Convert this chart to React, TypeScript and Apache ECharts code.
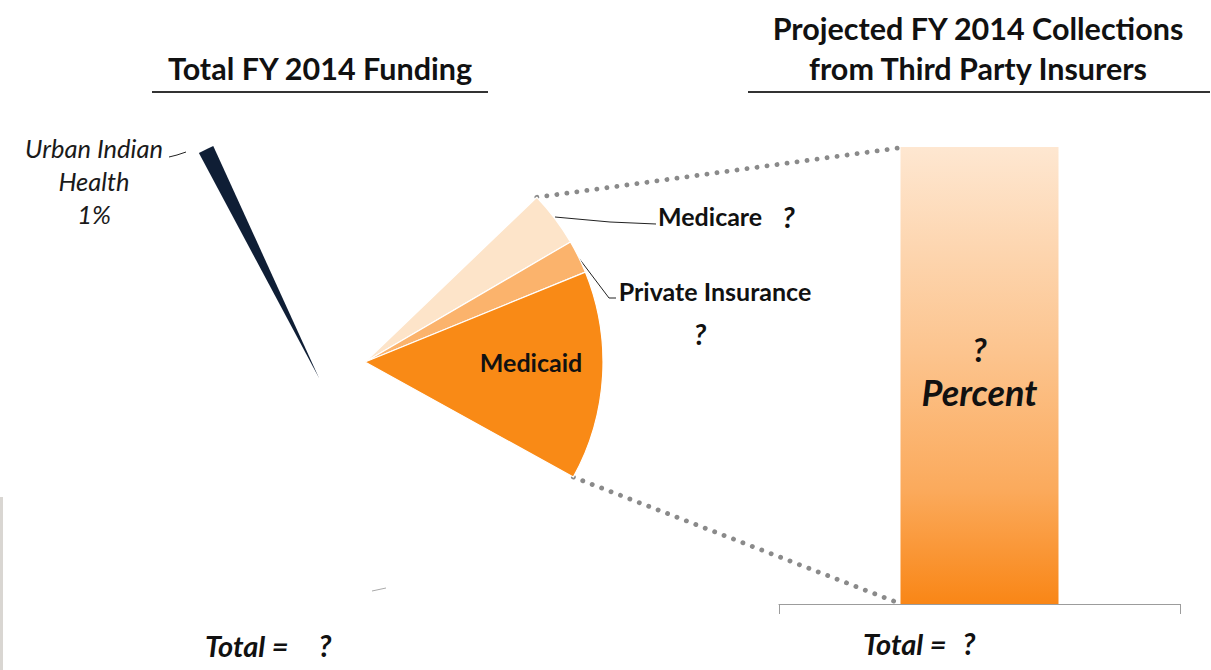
import React, { useEffect, useRef } from "react";
import * as echarts from "echarts";

// ---- data ----
const fundingNames = ["Urban Indian Health", "Other IHS Funding"];
const fundingValues = [1, 99];
const thirdPartyNames = ["Medicare", "Private Insurance", "Medicaid", "Remaining Funding"];
const thirdPartyValues = [3.75, 2.25, 14.2, 79.8];
const collectionCategories = ["Third Party Collections"];
const collectionValues = [100];
const unknownMark = "?";

// ---- layout constants ----
const W = 1211;
const H = 670;
const FONT = "Lato, 'Open Sans', sans-serif";
const MAIN_C = [319, 378];
const MAIN_R = 255;
const TP_C = [365, 362];
const TP_R = 238;
const TP_START = 43.8;
const GRID = { left: 779, right: 31, top: 147, bottom: 66 };
const BAR_W_FRAC = 0.394;

const navy = "#0f1e35";
const orangeColors = ["#fde4c9", "#fbb36c", "#f98a16"];

function pt(c: number[], r: number, deg: number) {
  const a = (deg * Math.PI) / 180;
  return [c[0] + r * Math.cos(a), c[1] - r * Math.sin(a)];
}

export default function App() {
  const ref = useRef<HTMLDivElement>(null);
  useEffect(() => {
    if (!ref.current) return;
    const chart = echarts.init(ref.current, undefined, { renderer: "svg" });

    const tpTotal = thirdPartyValues.reduce((a, b) => a + b, 0);
    const shownSpan = ((thirdPartyValues[0] + thirdPartyValues[1] + thirdPartyValues[2]) / tpTotal) * 360;
    const topPt = pt(TP_C, TP_R, TP_START);
    const botPt = pt(TP_C, TP_R, TP_START - shownSpan);

    const catW = W - GRID.left - GRID.right;
    const barLeft = GRID.left + (catW - catW * BAR_W_FRAC) / 2;
    const barTop = GRID.top;
    const barBottom = H - GRID.bottom;

    const hidden = {
      itemStyle: { color: "rgba(255,255,255,0)", borderWidth: 0 },
      label: { show: false },
      labelLine: { show: false },
      emphasis: { disabled: true },
    };

    const boldItalic = (size: number, extra: any = {}) => ({
      fontFamily: FONT,
      fontWeight: "bold",
      fontStyle: "italic",
      fontSize: size,
      color: "#111",
      ...extra,
    });

    const option: any = {
      animation: false,
      backgroundColor: "#ffffff",
      grid: { ...GRID, containLabel: false },
      xAxis: {
        type: "category",
        data: collectionCategories,
        boundaryGap: true,
        axisLine: { lineStyle: { color: "#9c9c9c", width: 1.2 } },
        axisTick: { show: true, length: 10, lineStyle: { color: "#9c9c9c" } },
        axisLabel: { show: false },
      },
      yAxis: { type: "value", min: 0, max: 100, show: false, splitLine: { show: false } },
      series: [
        {
          type: "pie",
          name: "Total FY 2014 Funding",
          center: MAIN_C,
          radius: MAIN_R,
          startAngle: 118.1,
          clockwise: true,
          avoidLabelOverlap: false,
          silent: true,
          data: fundingNames.map((n, i) =>
            i === 0
              ? {
                  name: n,
                  value: fundingValues[i],
                  itemStyle: { color: navy },
                  label: {
                    show: true,
                    formatter: (p: any) => "Urban Indian\nHealth\n" + Math.round(p.percent) + "%",
                    fontFamily: FONT,
                    fontStyle: "italic",
                    fontSize: 25.5,
                    lineHeight: 33,
                    color: "#1a1a1a",
                  },
                  labelLine: { show: true, lineStyle: { color: "#222", width: 1 } },
                }
              : { name: n, value: fundingValues[i], ...hidden }
          ),
          labelLayout: (p: any) =>
            p.dataIndex === 0
              ? {
                  x: 94,
                  y: 181,
                  align: "center",
                  verticalAlign: "middle",
                  labelLinePoints: [
                    [186, 152],
                    [177, 155],
                    [169, 157],
                  ],
                }
              : {},
        },
        {
          type: "pie",
          name: "Third Party Collections",
          center: TP_C,
          radius: TP_R,
          startAngle: TP_START,
          clockwise: true,
          avoidLabelOverlap: false,
          silent: true,
          data: thirdPartyNames.map((n, i) => {
            if (i === 3) return { name: n, value: thirdPartyValues[i], ...hidden };
            const base: any = {
              name: n,
              value: thirdPartyValues[i],
              itemStyle: { color: orangeColors[i], borderColor: "#ffffff", borderWidth: 1.2 },
            };
            if (i === 0) {
              base.label = {
                show: true,
                formatter: "{a|" + n + "}{q|" + unknownMark + "}",
                rich: {
                  a: { fontFamily: FONT, fontWeight: "bold", fontSize: 25, color: "#111" },
                  q: boldItalic(29, { padding: [0, 0, 0, 20] }),
                },
              };
              base.labelLine = { show: true, lineStyle: { color: "#222", width: 1 } };
            } else if (i === 1) {
              base.label = {
                show: true,
                formatter: "{a|" + n + "}\n{q|" + unknownMark + "}",
                lineHeight: 42,
                rich: {
                  a: { fontFamily: FONT, fontWeight: "bold", fontSize: 25, color: "#111", lineHeight: 42 },
                  q: boldItalic(29, { lineHeight: 42, padding: [0, 30, 0, 0] }),
                },
              };
              base.labelLine = { show: true, lineStyle: { color: "#222", width: 1 } };
            } else {
              base.label = {
                show: true,
                position: "inside",
                formatter: "{b}",
                fontFamily: FONT,
                fontWeight: "bold",
                fontSize: 25,
                color: "#111",
              };
              base.labelLine = { show: false };
            }
            return base;
          }),
          labelLayout: (p: any) => {
            if (p.dataIndex === 0)
              return {
                x: 658,
                y: 216,
                align: "left",
                verticalAlign: "middle",
                labelLinePoints: [
                  [555, 217],
                  [610, 222],
                  [656, 224],
                ],
              };
            if (p.dataIndex === 1)
              return {
                x: 715,
                y: 312,
                align: "center",
                verticalAlign: "middle",
                labelLinePoints: [
                  [578, 257],
                  [609, 298],
                  [616, 298],
                ],
              };
            if (p.dataIndex === 2) return { x: 531, y: 362, align: "center", verticalAlign: "middle" };
            return {};
          },
        },
        {
          type: "bar",
          name: "Projected FY 2014 Collections",
          data: collectionValues,
          barWidth: BAR_W_FRAC * 100 + "%",
          silent: true,
          itemStyle: {
            color: new echarts.graphic.LinearGradient(0, 0, 0, 1, [
              { offset: 0, color: "#fee7d1" },
              { offset: 0.45, color: "#fcc48e" },
              { offset: 0.75, color: "#fbaa5c" },
              { offset: 1, color: "#f98616" },
            ]),
          },
          label: {
            show: true,
            position: "inside",
            offset: [0, -5],
            formatter: "{q|" + unknownMark + "}\n{p|Percent}",
            rich: {
              q: boldItalic(33, { lineHeight: 43 }),
              p: boldItalic(36, { lineHeight: 43 }),
            },
          },
        },
      ],
      graphic: [
        { type: "rect", left: 0, top: 497, shape: { width: 3, height: 173 }, style: { fill: "#d9d6d2" }, silent: true },
        {
          type: "text",
          x: 320,
          y: 68,
          style: { text: "Total FY 2014 Funding", font: "bold 30.5px " + FONT, fill: "#111", align: "center", verticalAlign: "middle" },
        },
        { type: "line", shape: { x1: 152, y1: 92, x2: 488, y2: 92 }, style: { stroke: "#333", lineWidth: 2 } },
        {
          type: "text",
          x: 978,
          y: 48,
          style: {
            text: "Projected FY 2014 Collections\nfrom Third Party Insurers",
            font: "bold 30.5px " + FONT,
            lineHeight: 40,
            fill: "#111",
            align: "center",
            verticalAlign: "middle",
          },
        },
        { type: "line", shape: { x1: 748, y1: 92, x2: 1210, y2: 92 }, style: { stroke: "#333", lineWidth: 2 } },
        {
          type: "line",
          shape: { x1: topPt[0], y1: topPt[1], x2: barLeft - 2, y2: barTop + 1 },
          style: { stroke: "#8a8a8a", lineWidth: 4.8, lineDash: [0.1, 10], lineCap: "round" },
        },
        {
          type: "line",
          shape: { x1: botPt[0], y1: botPt[1], x2: barLeft - 2, y2: barBottom - 1 },
          style: { stroke: "#8a8a8a", lineWidth: 4.8, lineDash: [0.1, 10], lineCap: "round" },
        },
        { type: "line", shape: { x1: 372, y1: 591, x2: 386, y2: 588 }, style: { stroke: "#aaa", lineWidth: 1 } },
        {
          type: "text",
          x: 205,
          y: 645,
          style: {
            text: "{a|Total =}{q|" + unknownMark + "}",
            rich: {
              a: { fontFamily: FONT, fontWeight: "bold", fontStyle: "italic", fontSize: 29, fill: "#111" },
              q: { fontFamily: FONT, fontWeight: "bold", fontStyle: "italic", fontSize: 30, fill: "#111", padding: [0, 0, 0, 30] },
            },
            verticalAlign: "middle",
          },
        },
        {
          type: "text",
          x: 863,
          y: 643,
          style: {
            text: "{a|Total =}{q|" + unknownMark + "}",
            rich: {
              a: { fontFamily: FONT, fontWeight: "bold", fontStyle: "italic", fontSize: 29, fill: "#111" },
              q: { fontFamily: FONT, fontWeight: "bold", fontStyle: "italic", fontSize: 30, fill: "#111", padding: [0, 0, 0, 16] },
            },
            verticalAlign: "middle",
          },
        },
      ],
    };
    chart.setOption(option);
    return () => chart.dispose();
  }, []);
  return (
    <div
      ref={ref}
      style={{ position: "fixed", left: 0, top: 0, width: W, height: H, background: "#fff" }}
    />
  );
}
